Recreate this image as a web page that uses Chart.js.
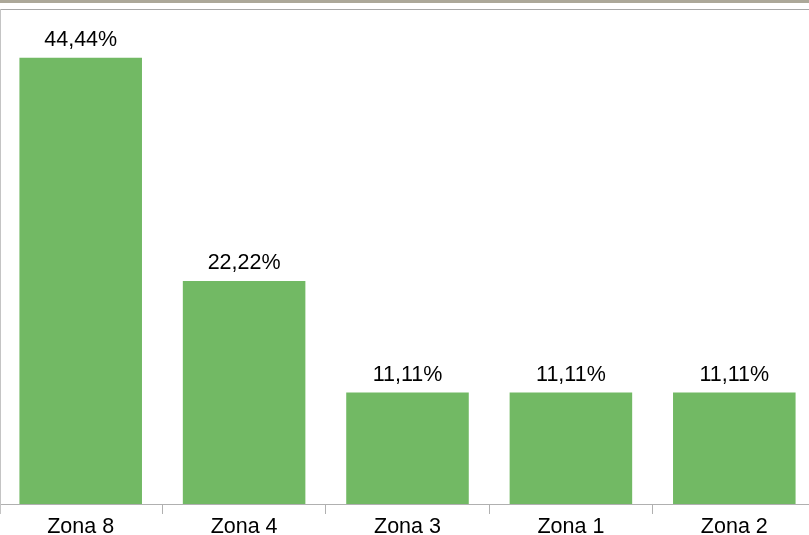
<!DOCTYPE html>
<html>
<head>
<meta charset="utf-8">
<script src="https://cdn.jsdelivr.net/npm/chart.js@4"></script>
<style>
    html, body { margin: 0; padding: 0; background: #fff; }
    #frame { position: relative; width: 809px; height: 535px; overflow: hidden; background: #fff; }
    #topBand { position: absolute; left: 0; top: 0; width: 809px; height: 3px; background: #aca899; }
    #topLine { position: absolute; left: 0; top: 9px; width: 809px; height: 1px; background: #a8a8a8; }
    #leftLine { position: absolute; left: 0; top: 9px; width: 1px; height: 505px; background: #c4c4c4; }
    #zoneChart { position: absolute; left: -2px; top: 0; }
</style>
</head>
<body>
<div id="frame">
    <canvas id="zoneChart" width="820" height="535"></canvas>
    <div id="topBand"></div>
    <div id="topLine"></div>
    <div id="leftLine"></div>
</div>
<script>
const categories = ['Zona 8', 'Zona 4', 'Zona 3', 'Zona 1', 'Zona 2'];
const shares = [44.44, 22.22, 11.11, 11.11, 11.11];

const fontFamily = 'Arial, "Liberation Sans", sans-serif';

// etiquetas encima de cada barra
const valueLabels = {
    id: 'valueLabels',
    afterDatasetsDraw(chart) {
        const ctx = chart.ctx;
        const meta = chart.getDatasetMeta(0);
        ctx.save();
        ctx.font = '21.5px ' + fontFamily;
        ctx.fillStyle = '#000';
        ctx.textAlign = 'center';
        ctx.textBaseline = 'alphabetic';
        meta.data.forEach((bar, i) => {
            const text = shares[i].toFixed(2).replace('.', ',') + '%';
            ctx.fillText(text, bar.x, bar.y - 11.5);
        });
        ctx.restore();
    }
};

const ctx = document.getElementById('zoneChart').getContext('2d');
new Chart(ctx, {
    type: 'bar',
    data: {
        labels: categories,
        datasets: [{
            data: shares,
            backgroundColor: '#72b964',
            borderWidth: 0,
            barPercentage: 0.75,
            categoryPercentage: 1
        }]
    },
    options: {
        responsive: false,
        animation: false,
        layout: { padding: { left: 1, right: 2, top: 2, bottom: 0 } },
        plugins: {
            legend: { display: false },
            tooltip: { enabled: false }
        },
        scales: {
            x: {
                offset: true,
                grid: {
                    offset: true,
                    drawOnChartArea: false,
                    drawTicks: true,
                    tickLength: 10,
                    color: '#b0b0b0'
                },
                border: { color: '#b0b0b0', width: 1 },
                ticks: {
                    color: '#000',
                    padding: 0,
                    autoSkip: false,
                    maxRotation: 0,
                    font: { family: fontFamily, size: 21.5 }
                },
                afterFit: (scale) => { scale.height = 31; }
            },
            y: {
                display: false,
                min: 0,
                max: 50
            }
        }
    },
    plugins: [valueLabels]
});
</script>
</body>
</html>
